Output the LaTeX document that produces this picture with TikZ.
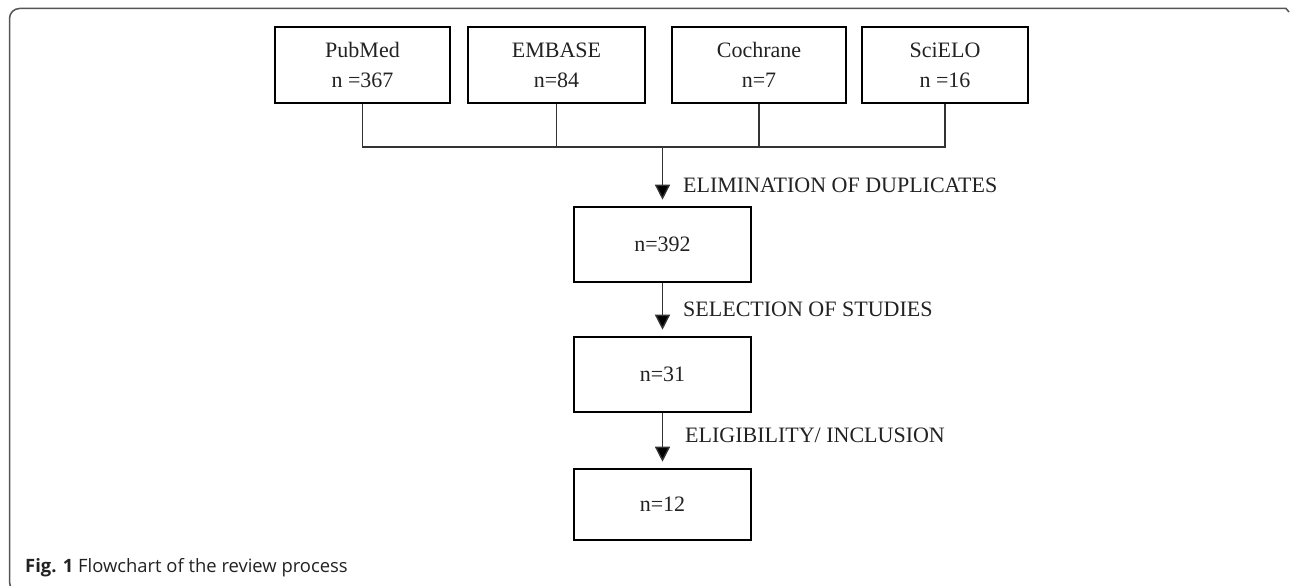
\documentclass[tikz,border=0pt]{standalone}
\usepackage{fontspec}
\setmainfont{Liberation Serif}
\newfontfamily\capfont{Open Sans}
\usetikzlibrary{arrows.meta}
\definecolor{txt}{HTML}{222222}
\definecolor{linegray}{HTML}{333333}
\definecolor{framegray}{HTML}{555555}
\begin{document}
\begin{tikzpicture}[x=1pt,y=-1pt,
  box/.style={draw=black, line width=2.6pt, inner sep=0pt, align=center,
    font=\fontsize{22}{30}\selectfont, text=txt},
  conn/.style={draw=linegray, line width=1.4pt},
  arr/.style={conn, -{Triangle[length=15pt,width=15pt,fill=black]}, shorten >=6pt},
  lbl/.style={anchor=west, inner sep=0pt, font=\fontsize{22}{26}\selectfont, text=txt},
  frame/.style={draw=framegray, line width=1.5pt}]
\useasboundingbox (0,0) rectangle (1290,586);
% outer frame
\draw[frame] (1289,12) -- (1286,8.5) [rounded corners=10pt] -- (9.5,8.5) -- (9.5,592) -- (22,592);
% source boxes
\node[box, minimum width=175pt, minimum height=76pt] (pub) at (362.5,65) {PubMed\\n =367};
\node[box, minimum width=177pt, minimum height=76pt] (emb) at (556.5,65) {EMBASE\\n=84};
\node[box, minimum width=174pt, minimum height=76pt] (coc) at (759,65) {Cochrane\\n=7};
\node[box, minimum width=166pt, minimum height=76pt] (sci) at (945,65) {SciELO\\n =16};
% result boxes
\node[box, minimum width=177pt, minimum height=75pt] (b392) at (662.5,244.5) {n=392};
\node[box, minimum width=177pt, minimum height=75pt] (b31) at (662.5,374.5) {n=31};
\node[box, minimum width=177pt, minimum height=71pt] (b12) at (662.5,504.5) {n=12};
% merge connector
\coordinate (j) at (662.5,147);
\draw[conn] (pub.south) -- (pub.south |- j) -- (sci.south |- j) -- (sci.south);
\draw[conn] (emb.south) -- (emb.south |- j);
\draw[conn] (coc.south) -- (coc.south |- j);
% arrows
\draw[arr] (j) -- (b392.north);
\draw[arr] (b392.south) -- (b31.north);
\draw[arr] (b31.south) -- (b12.north);
% labels
\node[lbl] (l1) at (683,185) {ELIMINATION OF DUPLICATES};
\node[lbl] (l2) at (683,309) {SELECTION OF STUDIES};
\node[lbl] (l3) at (685,435) {ELIGIBILITY/ INCLUSION};
% caption
\node[anchor=base west, inner sep=0pt, text=txt, font=\capfont\fontsize{18.4}{22}\selectfont] (cap) at (25,572) {\textbf{Fig. 1} Flowchart of the review process};
\end{tikzpicture}
\end{document}
